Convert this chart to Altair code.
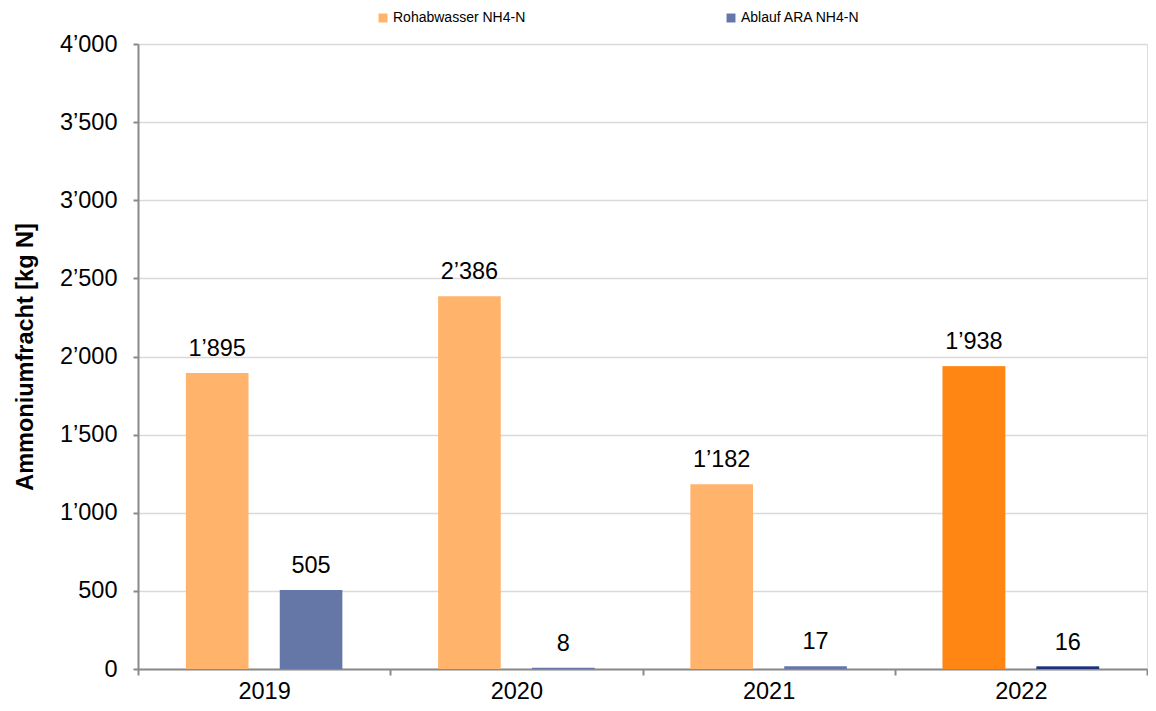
import altair as alt
import pandas as pd

years = ["2019", "2020", "2021", "2022"]
series = ["Rohabwasser NH4-N", "Ablauf ARA NH4-N"]
roh = [1895, 2386, 1182, 1938]
abl = [505, 8, 17, 16]
series_colors = ["#FFB36B", "#6577A6"]
highlight_year = "2022"
highlight_colors = ["#FF8612", "#1F2F7A"]
y_ticks = [0, 500, 1000, 1500, 2000, 2500, 3000, 3500, 4000]

rows = []
for i, yr in enumerate(years):
    for s, vals, hc in zip(series, [roh, abl], highlight_colors):
        v = vals[i]
        rows.append({
            "year": yr,
            "series": s,
            "value": v,
            "label": f"{v:,}".replace(",", "\u2019"),
            "hl": hc if yr == highlight_year else None,
        })
df = pd.DataFrame(rows)

FONT = "Liberation Sans"
AX = "#8a8a8a"
FS = 23.5

x_enc = alt.X(
    "year:N", title=None, sort=years,
    scale=alt.Scale(paddingInner=0, paddingOuter=0),
    axis=alt.Axis(labelAngle=0, tickBand="extent", grid=False,
                  domainColor=AX, domainWidth=2, tickColor=AX, tickWidth=2,
                  tickSize=6, labelFontSize=FS, labelFont=FONT, labelColor="black",
                  labelPadding=4),
)
xo_enc = alt.XOffset("series:N", sort=series,
                     scale=alt.Scale(paddingInner=0.333, paddingOuter=0.51))
y_enc = alt.Y(
    "value:Q",
    scale=alt.Scale(domain=[0, 4000]),
    axis=alt.Axis(values=y_ticks,
                  labelExpr="replace(format(datum.value, ','), ',', '\u2019')",
                  title="Ammoniumfracht [kg N]", titleFont=FONT, titleFontSize=FS,
                  titleFontWeight="bold", titleColor="black", titlePadding=22,
                  labelFont=FONT, labelFontSize=FS, labelColor="black", labelPadding=16,
                  domainColor=AX, domainWidth=2, tickColor=AX, tickWidth=2, tickSize=5,
                  gridColor="#d9d9d9", gridWidth=1.5),
)

base = alt.Chart(df)

bars = base.mark_bar().encode(
    x=x_enc, xOffset=xo_enc, y=y_enc,
    color=alt.Color("series:N", sort=series,
                    scale=alt.Scale(domain=series, range=series_colors),
                    legend=alt.Legend(orient="none", legendX=238, legendY=-33,
                                      direction="horizontal", title=None,
                                      symbolType="square", symbolSize=80,
                                      symbolStrokeWidth=0, labelFont=FONT,
                                      labelFontSize=14, labelColor="black",
                                      labelOffset=3, columnPadding=198)),
)

hl_bars = base.transform_filter("datum.hl != null").mark_bar().encode(
    x=x_enc, xOffset=xo_enc, y=y_enc,
    fill=alt.Fill("hl:N", scale=None),
)

labels = base.mark_text(dy=-17, baseline="alphabetic", font=FONT, fontSize=FS,
                        color="black").encode(
    x=x_enc, xOffset=xo_enc, y=y_enc, text="label:N",
)

chart = alt.layer(bars, hl_bars, labels).properties(
    width=1009, height=625,
    padding={"left": 5, "top": 3, "right": 0, "bottom": 0},
).configure_view(stroke=None).configure(background="white")

chart.save("out.html", embed_options={"renderer": "svg", "actions": False})
